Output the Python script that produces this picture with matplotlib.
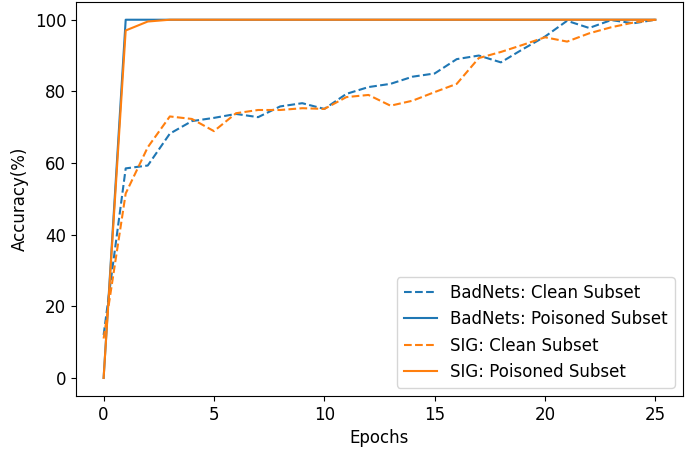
import matplotlib
matplotlib.use('Agg')
import matplotlib.pyplot as plt

# Accuracy per epoch
epochs = list(range(26))
badnets_clean = [12, 58.5, 59.3, 68.2, 71.7, 72.6, 73.7, 72.8, 75.8, 76.7, 75.1, 79.3, 81.2,
                 82.1, 84.1, 85.0, 89.0, 90.0, 88.1, 91.8, 95.3, 99.7, 97.7, 99.9, 99.0, 100]
badnets_poisoned = [0] + [100] * 25
sig_clean = [11, 51.5, 64.4, 73.0, 72.3, 68.9, 73.9, 74.8, 74.8, 75.3, 75.1, 78.4, 79.0,
             76.0, 77.4, 79.8, 82.1, 89.3, 91.0, 93.0, 95.1, 93.9, 96.2, 97.9, 99.2, 100]
sig_poisoned = [0, 97, 99.5] + [100] * 23

plt.rcParams['font.size'] = 12
fig = plt.figure(figsize=(6.85, 4.55), dpi=100)
ax = fig.add_axes([0.111, 0.13, 0.886, 0.866])

ax.plot(epochs, badnets_clean, '--', color='C0', label='BadNets: Clean Subset')
ax.plot(epochs, badnets_poisoned, '-', color='C0', label='BadNets: Poisoned Subset')
ax.plot(epochs, sig_clean, '--', color='C1', label='SIG: Clean Subset')
ax.plot(epochs, sig_poisoned, '-', color='C1', label='SIG: Poisoned Subset')

ax.set_xlabel('Epochs')
ax.set_ylabel('Accuracy(%)')
ax.legend(loc='lower right')

fig.savefig('out.png', dpi=100)
